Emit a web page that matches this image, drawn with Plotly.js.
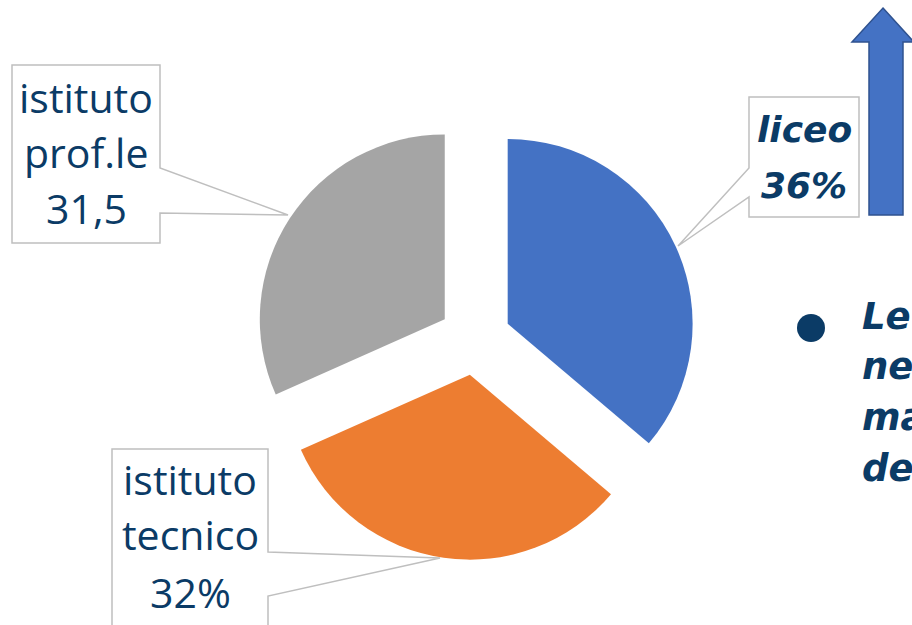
<!DOCTYPE html>
<html><head><meta charset="utf-8">
<script src="https://cdn.plot.ly/plotly-3.0.1.min.js"></script>
<style>html,body{margin:0;padding:0;background:#fff}#chart{width:912px;height:625px}</style>
</head><body><div id="chart"></div>
<script>
// ---- data ----
const categories = ["liceo", "istituto tecnico", "istituto prof.le"];
const values = [36, 32, 31.5];
const valueLabels = ["36%", "32%", "31,5"];
const labelLines = [["liceo", "36%"], ["istituto", "tecnico", "32%"], ["istituto", "prof.le", "31,5"]];
const colors = ["#4472C4", "#ED7D31", "#A5A5A5"];
const sideText = ["Le", "ne", "ma", "de"];

// ---- helpers ----
const W = 912, H = 625;
const px = x => x / W, py = y => 1 - y / H;
function pathOf(pts, close) {
  return pts.map((p, i) => (i ? 'L' : 'M') + px(p[0]).toFixed(5) + ',' + py(p[1]).toFixed(5)).join(' ') + (close ? ' Z' : '');
}
const NAVY = "#0B3B66";
const BORDER = "#BFBFBF";

const trace = {
  type: 'pie',
  labels: categories,
  values: values,
  sort: false,
  direction: 'clockwise',
  rotation: 0,
  pull: [0.195, 0.195, 0.195],
  marker: {colors: colors, line: {width: 0}},
  textinfo: 'none',
  hoverinfo: 'none',
  showlegend: false,
  domain: {x: [0.2208, 0.8208], y: [0.104, 0.8112]}
};

const shapes = [
  {type: 'path', xref: 'paper', yref: 'paper', layer: 'above',
   path: pathOf([[12,65],[160,65],[160,168],[288,215],[160,213],[160,243],[12,243]], true),
   fillcolor: '#FFFFFF', line: {color: BORDER, width: 1.5}},
  {type: 'path', xref: 'paper', yref: 'paper', layer: 'above',
   path: pathOf([[749,97],[859,97],[859,217],[749,217],[749,197],[678,246],[749,168]], true),
   fillcolor: '#FFFFFF', line: {color: BORDER, width: 1.5}},
  {type: 'path', xref: 'paper', yref: 'paper', layer: 'above',
   path: pathOf([[112,660],[112,449],[268,449],[268,552],[440,558],[268,596],[268,660]], true),
   fillcolor: '#FFFFFF', line: {color: BORDER, width: 1.5}},
  {type: 'path', xref: 'paper', yref: 'paper', layer: 'above',
   path: pathOf([[883,8],[914,42],[903,42],[903,215],[869,215],[869,42],[852,42]], true),
   fillcolor: '#4472C4', line: {color: '#2F528F', width: 1.5}},
  {type: 'circle', xref: 'paper', yref: 'paper', layer: 'above',
   x0: px(797), x1: px(825), y0: py(342), y1: py(314),
   fillcolor: NAVY, line: {width: 0}}
];

const annotations = [];
function addLines(lines, cx, centers, font, xanchor) {
  lines.forEach((t, i) => annotations.push({
    xref: 'paper', yref: 'paper', x: px(cx), y: py(centers[i]),
    xanchor: xanchor || 'center', yanchor: 'middle', showarrow: false,
    text: t, font: font
  }));
}
const regFont = {family: 'Open Sans, sans-serif', size: 41, color: NAVY};
const biFont = {family: 'DejaVu Sans, sans-serif', size: 36, color: NAVY, weight: 700, style: 'italic'};
const sideFont = {family: 'DejaVu Sans, sans-serif', size: 37, color: NAVY, weight: 700, style: 'italic'};
addLines(labelLines[2], 86, [97, 152, 208], regFont);
addLines(labelLines[1], 190, [479, 534, 592], regFont);
addLines(labelLines[0].map(t => '<b><i>' + t + '</i></b>'), 804, [130, 186], biFont);
addLines(sideText.map(t => '<b><i>' + t + '</i></b>'), 860, [316, 366, 418, 468], sideFont, 'left');

Plotly.newPlot('chart', [trace], {
  width: W, height: H,
  margin: {l: 0, r: 0, t: 0, b: 0},
  paper_bgcolor: '#FFFFFF', plot_bgcolor: '#FFFFFF',
  shapes: shapes, annotations: annotations
}, {staticPlot: true, displayModeBar: false});
</script></body></html>
